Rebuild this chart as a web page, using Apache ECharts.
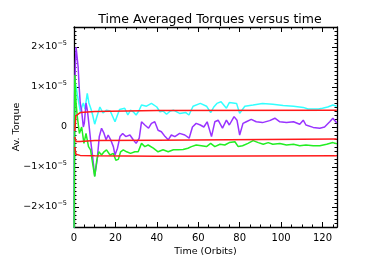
<!DOCTYPE html>
<html><head><meta charset="utf-8">
<script src="https://cdn.jsdelivr.net/npm/echarts@6/dist/echarts.min.js"></script>
<style>html,body{margin:0;padding:0;background:#fff}#c{width:374px;height:267px}</style>
</head><body><div id="c"></div>
<script>
// values in units of 1e-5
const UNIT_EXP = -5;
const xTicks = [0, 20, 40, 60, 80, 100, 120];
const yTicks = [-2, -1, 0, 1, 2];

const cyanT = [0, 0.3, 0.6, 1.2, 1.8, 2.5, 3.2, 3.8, 4.5, 5.3, 6.4, 7.2, 8.2, 9.0, 10.0, 11.0, 12.5, 14.0, 15.7, 17.5, 19.8, 21.0, 22.0, 24.5, 26.0, 27.3, 28.6, 30.0, 31.3, 32.6, 35.0, 37.4, 40.0, 41.5, 43.0, 44.7, 46.5, 48.0, 51.0, 54.0, 55.5, 57.5, 61.0, 64.0, 66.0, 67.5, 69.0, 71.0, 73.6, 75.0, 78.5, 80.0, 82.5, 86.5, 91.0, 96.0, 101.0, 106.0, 110.7, 113.0, 115.5, 118.0, 120.0, 122.5, 125.0, 126.9];
const cyanV = [-3.0, 1.2, 1.1, 0.95, 0.75, 0.55, 0.35, 0.5, 0.6, 0.45, 0.84, 0.6, 0.45, 0.3, 0.07, 0.25, 0.5, 0.35, 0.42, 0.4, 0.13, 0.3, 0.44, 0.47, 0.3, 0.42, 0.38, 0.3, 0.4, 0.55, 0.52, 0.59, 0.5, 0.38, 0.4, 0.32, 0.4, 0.42, 0.34, 0.36, 0.3, 0.52, 0.59, 0.52, 0.36, 0.5, 0.59, 0.63, 0.47, 0.61, 0.59, 0.34, 0.52, 0.55, 0.59, 0.57, 0.54, 0.52, 0.49, 0.45, 0.45, 0.45, 0.47, 0.5, 0.55, 0.52];

const purpleT = [0, 0.3, 0.7, 1.0, 1.5, 2.0, 2.5, 3.0, 3.7, 4.5, 5.0, 5.8, 6.5, 7.0, 8.0, 9.0, 10.0, 11.2, 12.2, 13.3, 14.5, 15.5, 16.5, 17.7, 19.0, 19.8, 21.0, 22.2, 23.5, 25.0, 27.0, 28.6, 30.0, 31.5, 32.6, 34.2, 36.0, 37.4, 39.0, 40.6, 42.2, 44.0, 45.5, 47.0, 48.7, 51.0, 53.5, 55.6, 57.2, 59.0, 61.0, 62.7, 64.3, 66.4, 68.0, 69.6, 71.7, 73.6, 75.0, 77.3, 78.7, 80.0, 81.6, 83.2, 85.6, 88.0, 91.0, 94.5, 97.0, 99.4, 102.6, 106.0, 109.0, 110.7, 112.0, 115.5, 118.7, 121.0, 123.5, 125.0, 126.9];
const purpleV = [-3.0, 0.8, 1.6, 2.0, 1.75, 1.5, 1.0, 0.6, 0.4, 0.0, 0.1, 0.6, 0.4, 0.17, -0.32, -0.74, -1.22, -0.82, -0.24, -0.03, -0.16, -0.32, -0.2, -0.32, -0.49, -0.7, -0.53, -0.24, -0.16, -0.24, -0.2, -0.32, -0.41, -0.28, 0.13, 0.05, -0.03, 0.09, 0.13, -0.08, -0.12, -0.24, -0.32, -0.2, -0.24, -0.16, -0.2, -0.28, 0.0, 0.09, 0.05, 0.0, 0.13, -0.24, 0.13, 0.17, -0.03, 0.17, 0.05, 0.26, 0.17, -0.2, 0.09, 0.13, 0.19, 0.13, 0.11, 0.16, 0.22, 0.13, 0.11, 0.13, 0.07, 0.17, 0.05, -0.01, -0.03, 0.0, 0.13, 0.22, 0.1];

const greenT = [0, 0.4, 1.0, 1.6, 2.6, 3.7, 4.8, 5.8, 7.0, 8.0, 9.0, 10.0, 11.0, 12.0, 13.3, 14.5, 15.7, 17.4, 19.0, 20.2, 21.4, 22.5, 23.8, 25.4, 27.3, 29.4, 31.0, 32.6, 34.2, 35.8, 38.3, 40.6, 43.0, 45.5, 48.0, 50.3, 52.7, 55.0, 56.7, 59.0, 61.5, 64.0, 66.0, 68.0, 70.5, 72.8, 75.0, 77.7, 79.3, 81.4, 84.0, 86.5, 89.0, 91.4, 93.8, 96.0, 99.4, 102.6, 106.0, 109.0, 112.0, 115.5, 118.7, 122.0, 125.0, 126.9];
const greenV = [-3.0, 1.3, 0.6, 0.26, -0.16, 0.0, -0.41, -0.16, -0.49, -0.57, -0.91, -1.24, -0.83, -0.62, -0.7, -0.62, -0.57, -0.7, -0.66, -0.83, -0.81, -0.62, -0.57, -0.62, -0.66, -0.62, -0.62, -0.41, -0.49, -0.45, -0.53, -0.62, -0.57, -0.62, -0.57, -0.57, -0.56, -0.53, -0.49, -0.45, -0.47, -0.49, -0.41, -0.49, -0.43, -0.45, -0.39, -0.37, -0.49, -0.47, -0.41, -0.34, -0.39, -0.43, -0.39, -0.43, -0.41, -0.45, -0.43, -0.47, -0.45, -0.47, -0.47, -0.43, -0.39, -0.42];

const redTopT = [0.4, 0.9, 3.0, 10.0, 40.0, 126.9];
const redTopV = [-0.1, 0.28, 0.36, 0.39, 0.41, 0.42];
const redMidT = [0.4, 0.9, 3.0, 10.0, 40.0, 126.9];
const redMidV = [-0.25, -0.36, -0.36, -0.34, -0.33, -0.3];
const redBotT = [0.4, 0.9, 3.0, 10.0, 40.0, 126.9];
const redBotV = [-0.5, -0.68, -0.71, -0.72, -0.73, -0.72];

function pairs(t, v) { return t.map((x, i) => [x, v[i]]); }

const FONT = 'DejaVu Sans';
const chart = echarts.init(document.getElementById('c'), null, {renderer: 'canvas'});
function yLab(v) {
  if (Math.abs(v) < 1e-9) return '{b|0}';
  if (Math.abs(v - Math.round(v)) > 1e-6) return '';
  const n = Math.round(v);
  return '{b|' + (n < 0 ? '\u2212' : '') + Math.abs(n) + '\u00d710}{s|\u2212' + Math.abs(UNIT_EXP) + '}';
}
const axisLineStyle = {color: '#000', width: 1.3};
const series = [];
function line(t, v, color, z) {
  series.push({type: 'line', data: pairs(t, v), showSymbol: false, symbol: 'none', clip: true,
    lineStyle: {color: color, width: 1.5}, z: z, animation: false});
}
line(cyanT, cyanV, '#33ffff', 2);
line(purpleT, purpleV, '#9933ff', 3);
line(greenT, greenV, '#22ee22', 4);
line(redTopT, redTopV, '#ff1a1a', 5);
line(redMidT, redMidV, '#ff1a1a', 5);
line(redBotT, redBotV, '#ff1a1a', 5);

function hiddenMinorY(pos) {
  return {type: 'value', min: -2.5, max: 2.5, interval: 0.1, position: pos, show: true,
    axisLine: {show: false, onZero: false}, axisLabel: {show: false}, splitLine: {show: false},
    axisTick: {show: true, inside: true, length: 2.5, lineStyle: {color: '#000'}}};
}

chart.setOption({
  animation: false,
  title: {text: 'Time Averaged Torques versus time', left: 205, top: 8, textAlign: 'center',
    textStyle: {fontFamily: FONT, fontSize: 12.5, fontWeight: 'normal', color: '#000'}},
  grid: {left: 74, right: 37, top: 27, bottom: 40, containLabel: false, outerBoundsMode: 'none'},
  xAxis: [
    {type: 'value', min: 0, max: 127, interval: 20, position: 'bottom',
     name: 'Time (Orbits)', nameLocation: 'middle', nameGap: 20, nameMoveOverlap: false,
     nameTextStyle: {fontFamily: FONT, fontSize: 9.5, color: '#000'},
     axisLine: {show: true, onZero: false, lineStyle: axisLineStyle},
     axisTick: {show: true, inside: true, length: 5, lineStyle: {color: '#000'}},
     minorTick: {show: true, splitNumber: 4, length: 2.5, lineStyle: {color: '#000'}},
     axisLabel: {fontFamily: FONT, fontSize: 10, color: '#000', margin: 6,
       formatter: v => xTicks.includes(v) ? String(v) : ''},
     splitLine: {show: false}},
    {type: 'value', min: 0, max: 127, interval: 20, position: 'top',
     axisLine: {show: true, onZero: false, lineStyle: axisLineStyle},
     axisTick: {show: true, inside: true, length: 5, lineStyle: {color: '#000'}},
     minorTick: {show: true, splitNumber: 4, length: 2.5, lineStyle: {color: '#000'}},
     axisLabel: {show: false}, splitLine: {show: false}}
  ],
  yAxis: [
    {type: 'value', min: -2.5, max: 2.5, interval: 0.5, position: 'left',
     name: 'Av. Torque', nameLocation: 'middle', nameGap: 52, nameRotate: 90, nameMoveOverlap: false,
     nameTextStyle: {fontFamily: FONT, fontSize: 9.5, color: '#000'},
     axisLine: {show: true, onZero: false, lineStyle: axisLineStyle},
     axisTick: {show: true, inside: true, length: 5, customValues: yTicks, lineStyle: {color: '#000'}},
     minorTick: {show: false},
     axisLabel: {color: '#000', margin: 7, customValues: yTicks, formatter: yLab,
       rich: {b: {fontFamily: FONT, fontSize: 9.5, color: '#000'},
              s: {fontFamily: FONT, fontSize: 6.5, color: '#000', verticalAlign: 'top', padding: [0, 0, 7, 0]}}},
     splitLine: {show: false}},
    {type: 'value', min: -2.5, max: 2.5, interval: 0.5, position: 'right',
     axisLine: {show: true, onZero: false, lineStyle: axisLineStyle},
     axisTick: {show: true, inside: true, length: 5, customValues: yTicks, lineStyle: {color: '#000'}},
     minorTick: {show: false},
     axisLabel: {show: false}, splitLine: {show: false}},
    hiddenMinorY('left'),
    hiddenMinorY('right')
  ],
  series: series
});
</script></body></html>
